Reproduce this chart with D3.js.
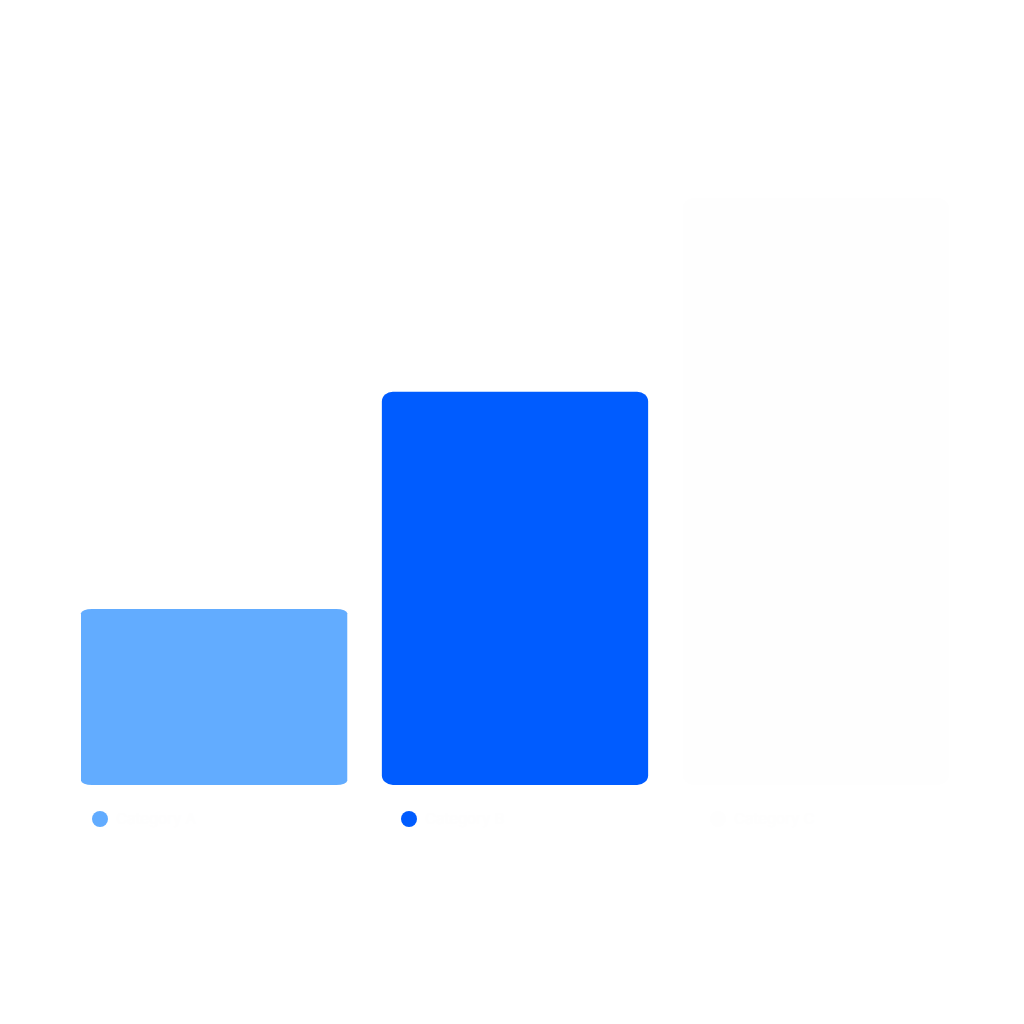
<!DOCTYPE html>
<html>
<head>
<meta charset="utf-8">
<script src="https://cdn.jsdelivr.net/npm/d3@7/dist/d3.min.js"></script>
<style>
  html, body { margin: 0; padding: 0; background: #ffffff; }
  svg { display: block; }
</style>
</head>
<body>
<script>
const categories = ["Category A", "Category B", "Category C"];
const values = [18, 40.2, 60];
const colors = ["#62acff", "#005cff", "#fefefe"];
const yTicks = [0, 20, 40, 60];

const W = 1024, H = 1024;
const margin = { left: 81, right: 75, top: 198, bottom: 239 };

const svg = d3.select("body").append("svg")
  .attr("width", W).attr("height", H);

const x = d3.scaleBand()
  .domain(categories)
  .range([margin.left, W - margin.right])
  .paddingInner(0.115)
  .paddingOuter(0);

const y = d3.scaleLinear()
  .domain([0, 60])
  .range([H - margin.bottom, margin.top]);

svg.append("g").selectAll("rect")
  .data(categories)
  .join("rect")
  .attr("x", d => x(d))
  .attr("y", (d, i) => y(values[i]))
  .attr("width", x.bandwidth())
  .attr("height", (d, i) => y(0) - y(values[i]))
  .attr("rx", 11)
  .attr("ry", (d, i) => Math.min(10, (y(0) - y(values[i])) * 0.025))
  .attr("fill", (d, i) => colors[i]);

// legend
const legendX = [100, 409, 718];
const lg = svg.append("g").selectAll("g")
  .data(categories)
  .join("g")
  .attr("transform", (d, i) => `translate(${legendX[i]},819)`);
lg.append("circle").attr("r", 8).attr("fill", (d, i) => colors[i]);
lg.append("text")
  .attr("x", 16).attr("dy", "0.35em")
  .attr("font-family", "Inter, sans-serif")
  .attr("font-size", 15)
  .attr("fill", "#fefefe")
  .text(d => d);
</script>
</body>
</html>
